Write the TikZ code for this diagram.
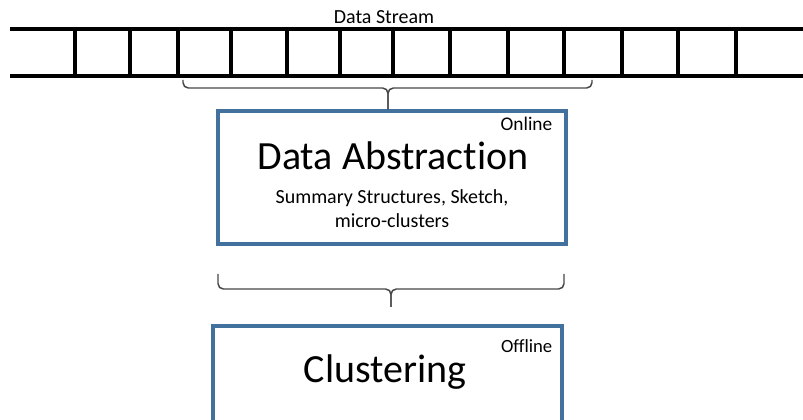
\documentclass[tikz,border=0pt]{standalone}
\usepackage{fontspec}
\setmainfont{Carlito}[RawFeature={-liga}]
\usetikzlibrary{positioning}
\definecolor{boxblue}{RGB}{65,113,156}
\definecolor{bracegray}{RGB}{70,70,70}

\begin{document}
\begin{tikzpicture}[x=0.75pt,y=-0.75pt,
  rail/.style={line width=2.6pt},
  slot/.style={line width=2.3pt},
  stage/.style={draw=boxblue,line width=2.4pt,rectangle,inner sep=0pt},
  brace/.style={draw=bracegray,line width=1.1pt,rounded corners=4pt},
  title/.style={font=\fontsize{30}{34}\selectfont,anchor=base},
  tag/.style={font=\fontsize{14.5}{16}\selectfont,anchor=base east}]
\useasboundingbox (0,0) rectangle (803,420);
\clip (0,0) rectangle (803,420);

% the stream of slots
\draw[rail] (10,29) -- (803,29);
\draw[rail] (10,76) -- (803,76);
\foreach \x in {75,130,178,231,287,340,393,450,508,564,622,678,736}
  \draw[slot] (\x,29) -- (\x,76);
\node[font=\fontsize{15}{17}\selectfont] (stream) at (384,17) {Data Stream};

% online part
\node[stage,minimum width=261pt,minimum height=99.75pt] (abstr) at (392,177.5) {};
\node[tag] (online) at (557,131) {Online};
\node[title] (abstrtitle) at (393,170) {Data Abstraction};
\node[align=center,font=\fontsize{15}{18.5}\selectfont,anchor=base] (summary) at (392,228)
  {Summary Structures, Sketch,\\micro-clusters};

% offline part
\node[stage,minimum width=261.75pt,minimum height=99.75pt] (clust) at (387.5,392.5) {};
\node[tag,font=\fontsize{14}{16}\selectfont] (offline) at (557,352) {Offline};
\node[title] (clusttitle) at (385,382) {Clustering};

% braces
\coordinate (winL) at (183,80);
\coordinate (winR) at (592,80);
\coordinate (winM) at (388,88);
\draw[brace] (winL) |- (winM) -- (winM |- abstr.north);
\draw[brace] (winR) |- (winM) -- (winM |- abstr.north);

\coordinate (absL) at (218,274);
\coordinate (absR) at (564,274);
\coordinate (absM) at (391,289);
\draw[brace] (absL) |- (absM) -- (391,307);
\draw[brace] (absR) |- (absM) -- (391,307);
\end{tikzpicture}
\end{document}
